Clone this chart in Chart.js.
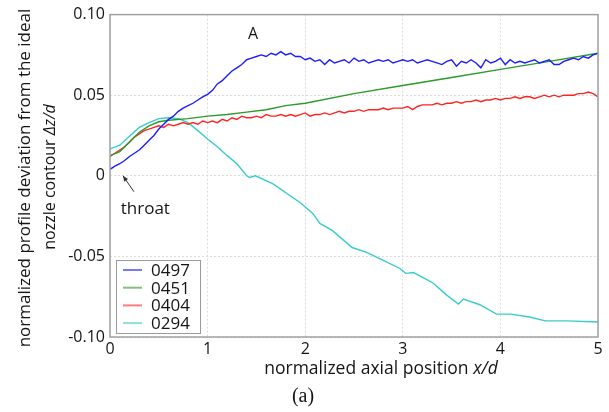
<!DOCTYPE html>
<html>
<head>
<meta charset="utf-8">
<script src="https://cdn.jsdelivr.net/npm/chart.js@4"></script>
<style>
  body { margin: 0; background: #fff; }
  #wrap { position: relative; width: 609px; height: 412px; }
</style>
</head>
<body>
<div id="wrap"><canvas id="chartCanvas"></canvas></div>
<script>
// x positions for the noisy series (step 0.05)
const fineX = [0, 0.05, 0.1, 0.15, 0.2, 0.25, 0.3, 0.35, 0.4, 0.45, 0.5, 0.55, 0.6, 0.65, 0.7, 0.75, 0.8, 0.85, 0.9, 0.95,
  1, 1.05, 1.1, 1.15, 1.2, 1.25, 1.3, 1.35, 1.4, 1.45, 1.5, 1.55, 1.6, 1.65, 1.7, 1.75, 1.8, 1.85, 1.9, 1.95,
  2, 2.05, 2.1, 2.15, 2.2, 2.25, 2.3, 2.35, 2.4, 2.45, 2.5, 2.55, 2.6, 2.65, 2.7, 2.75, 2.8, 2.85, 2.9, 2.95,
  3, 3.05, 3.1, 3.15, 3.2, 3.25, 3.3, 3.35, 3.4, 3.45, 3.5, 3.55, 3.6, 3.65, 3.7, 3.75, 3.8, 3.85, 3.9, 3.95,
  4, 4.05, 4.1, 4.15, 4.2, 4.25, 4.3, 4.35, 4.4, 4.45, 4.5, 4.55, 4.6, 4.65, 4.7, 4.75, 4.8, 4.85, 4.9, 4.95, 5];

const y0497 = [0.004, 0.006, 0.0075, 0.0095, 0.012, 0.014, 0.016, 0.019, 0.022, 0.025, 0.029, 0.032, 0.035, 0.037, 0.040, 0.042, 0.0435, 0.045, 0.047, 0.049,
  0.0505, 0.053, 0.057, 0.059, 0.062, 0.065, 0.067, 0.069, 0.072, 0.073, 0.074, 0.075, 0.074, 0.076, 0.075, 0.077, 0.075, 0.076, 0.074, 0.074,
  0.072, 0.073, 0.071, 0.072, 0.069, 0.072, 0.070, 0.071, 0.072, 0.070, 0.073, 0.071, 0.072, 0.070, 0.071, 0.072, 0.071, 0.072, 0.070, 0.071,
  0.072, 0.071, 0.072, 0.070, 0.071, 0.072, 0.071, 0.070, 0.069, 0.071, 0.072, 0.068, 0.071, 0.070, 0.072, 0.070, 0.067, 0.072, 0.070, 0.071,
  0.073, 0.069, 0.072, 0.070, 0.071, 0.070, 0.071, 0.072, 0.070, 0.071, 0.072, 0.069, 0.069, 0.071, 0.072, 0.073, 0.072, 0.074, 0.073, 0.075, 0.076];

const y0404 = [0.012, 0.014, 0.016, 0.018, 0.021, 0.024, 0.026, 0.028, 0.029, 0.030, 0.031, 0.030, 0.032, 0.031, 0.032, 0.033, 0.032, 0.033, 0.032, 0.034,
  0.033, 0.034, 0.033, 0.035, 0.034, 0.036, 0.035, 0.037, 0.036, 0.036, 0.037, 0.036, 0.038, 0.037, 0.037, 0.038, 0.037, 0.038, 0.037, 0.038,
  0.039, 0.037, 0.038, 0.038, 0.039, 0.038, 0.039, 0.040, 0.039, 0.040, 0.040, 0.041, 0.040, 0.041, 0.041, 0.041, 0.042, 0.041, 0.042, 0.042,
  0.042, 0.043, 0.041, 0.043, 0.044, 0.044, 0.044, 0.045, 0.044, 0.045, 0.045, 0.046, 0.045, 0.046, 0.046, 0.047, 0.046, 0.047, 0.047, 0.048,
  0.047, 0.048, 0.048, 0.049, 0.048, 0.049, 0.049, 0.048, 0.049, 0.050, 0.049, 0.050, 0.049, 0.050, 0.050, 0.050, 0.051, 0.051, 0.052, 0.051, 0.049];

const x0451 = [0, 0.1, 0.2, 0.3, 0.4, 0.5, 0.6, 0.8, 1.0, 1.2, 1.4, 1.6, 1.8, 2.0, 2.5, 3.0, 3.5, 4.0, 4.5, 5.0];
const y0451 = [0.0125, 0.015, 0.021, 0.027, 0.031, 0.0335, 0.0345, 0.0355, 0.037, 0.038, 0.0395, 0.041, 0.0435, 0.045, 0.051, 0.056, 0.061, 0.066, 0.071, 0.076];

const x0294 = [0, 0.1, 0.2, 0.3, 0.4, 0.5, 0.6, 0.7, 0.8, 0.9, 1.0, 1.1, 1.2, 1.3, 1.40, 1.43, 1.49, 1.67, 1.95, 2.08, 2.15, 2.28, 2.48, 2.63, 2.80, 2.97, 3.03, 3.11, 3.31, 3.45, 3.57, 3.62, 3.79, 3.96, 4.10, 4.30, 4.46, 4.68, 5.0];
const y0294 = [0.0167, 0.019, 0.0245, 0.030, 0.033, 0.0355, 0.036, 0.0355, 0.033, 0.028, 0.0228, 0.018, 0.0125, 0.0075, 0.000, -0.001, 0.000, -0.005, -0.0167, -0.0235, -0.0295, -0.034, -0.0445, -0.0475, -0.0525, -0.0575, -0.0605, -0.060, -0.0665, -0.074, -0.0795, -0.0765, -0.080, -0.0858, -0.0858, -0.0876, -0.090, -0.090, -0.0907];

const seriesLabels = ['0497', '0451', '0404', '0294'];
const seriesColors = ['#1c1cff', '#2a9a2a', '#ff2424', '#38cccc'];
const xTicks = [0, 1, 2, 3, 4, 5];
const yTicks = [-0.10, -0.05, 0, 0.05, 0.10];

const FONT = "'Open Sans', sans-serif";
const INK = '#151515';

function pairs(xs, ys) {
    return xs.map((v, i) => ({ x: v, y: ys[i] }));
}

// draw a line of text where some parts are italic, centred at (cx, cy)
function drawMixed(ctx, parts, cx, cy, size) {
    let total = 0;
    parts.forEach(p => {
        ctx.font = (p[1] ? 'italic ' : '') + size + 'px ' + FONT;
        total += ctx.measureText(p[0]).width;
    });
    let x = cx - total / 2;
    ctx.textAlign = 'left';
    ctx.textBaseline = 'middle';
    parts.forEach(p => {
        ctx.font = (p[1] ? 'italic ' : '') + size + 'px ' + FONT;
        ctx.fillText(p[0], x, cy);
        x += ctx.measureText(p[0]).width;
    });
}

const extras = {
    id: 'extras',
    afterDraw(chart) {
        const { ctx, chartArea: a, scales: { x, y } } = chart;
        ctx.save();
        ctx.fillStyle = INK;

        // frame
        ctx.strokeStyle = '#a0a0a0';
        ctx.lineWidth = 1.5;
        ctx.strokeRect(a.left, a.top, a.right - a.left, a.bottom - a.top);

        // axis titles
        ctx.save();
        ctx.translate(25, 178);
        ctx.rotate(-Math.PI / 2);
        drawMixed(ctx, [['normalized profile deviation from the ideal', false]], 0, 0, 17);
        ctx.restore();
        ctx.save();
        ctx.translate(50.5, 177);
        ctx.rotate(-Math.PI / 2);
        drawMixed(ctx, [['nozzle contour ', false], ['\u0394z/d', true]], 0, 0, 16);
        ctx.restore();
        drawMixed(ctx, [['normalized axial position ', false], ['x/d', true]], 381, 369, 17.5);

        ctx.font = "20px 'Liberation Serif', serif";
        ctx.textAlign = 'center';
        ctx.textBaseline = 'middle';
        ctx.fillText('(a)', 303, 397);

        // annotations
        ctx.font = '16px ' + FONT;
        ctx.fillText('A', x.getPixelForValue(1.465), y.getPixelForValue(0.0876));
        ctx.textAlign = 'left';
        ctx.textBaseline = 'alphabetic';
        ctx.font = '17px ' + FONT;
        ctx.fillText('throat', x.getPixelForValue(0.11), y.getPixelForValue(-0.0235));

        const ax0 = x.getPixelForValue(0.246), ay0 = y.getPixelForValue(-0.0099);
        const ax1 = x.getPixelForValue(0.133), ay1 = y.getPixelForValue(0.0);
        ctx.strokeStyle = '#333';
        ctx.lineWidth = 1;
        ctx.beginPath();
        ctx.moveTo(ax0, ay0);
        ctx.lineTo(ax1, ay1);
        ctx.stroke();
        const ang = Math.atan2(ay1 - ay0, ax1 - ax0);
        ctx.beginPath();
        ctx.moveTo(ax1, ay1);
        ctx.lineTo(ax1 - 6 * Math.cos(ang - 0.4), ay1 - 6 * Math.sin(ang - 0.4));
        ctx.lineTo(ax1 - 6 * Math.cos(ang + 0.4), ay1 - 6 * Math.sin(ang + 0.4));
        ctx.closePath();
        ctx.fillStyle = '#333';
        ctx.fill();

        // legend box
        const lx = 116, ly = 260, lw = 84, lh = 73;
        ctx.fillStyle = '#fff';
        ctx.fillRect(lx, ly, lw, lh);
        ctx.strokeStyle = '#999';
        ctx.lineWidth = 1;
        ctx.strokeRect(lx + 0.5, ly + 0.5, lw, lh);
        ctx.font = '17px ' + FONT;
        ctx.textBaseline = 'middle';
        seriesLabels.forEach((lab, i) => {
            const ry = 270 + i * 17.7;
            ctx.strokeStyle = seriesColors[i];
            ctx.globalAlpha = 0.6;
            ctx.lineWidth = 2;
            ctx.beginPath();
            ctx.moveTo(123, ry);
            ctx.lineTo(142, ry);
            ctx.stroke();
            ctx.globalAlpha = 1;
            ctx.fillStyle = INK;
            ctx.fillText(lab, 151, ry + 1);
        });
        ctx.restore();
    }
};

const ctx = document.getElementById('chartCanvas').getContext('2d');
const chart = new Chart(ctx, {
    type: 'line',
    data: {
        datasets: [
            { label: seriesLabels[0], data: pairs(fineX, y0497), borderColor: seriesColors[0] },
            { label: seriesLabels[1], data: pairs(x0451, y0451), borderColor: seriesColors[1] },
            { label: seriesLabels[2], data: pairs(fineX, y0404), borderColor: seriesColors[2] },
            { label: seriesLabels[3], data: pairs(x0294, y0294), borderColor: seriesColors[3] }
        ]
    },
    options: {
        responsive: true,
        maintainAspectRatio: false,
        animation: false,
        elements: {
            point: { radius: 0 },
            line: { borderWidth: 1.4, tension: 0 }
        },
        layout: { padding: { top: 13, right: 11, left: 0, bottom: 0 } },
        plugins: { legend: { display: false }, tooltip: { enabled: false } },
        scales: {
            x: {
                type: 'linear',
                min: 0,
                max: 5,
                afterBuildTicks: s => { s.ticks = xTicks.map(v => ({ value: v })); },
                afterFit: s => { s.height = 75; },
                ticks: { color: INK, font: { family: FONT, size: 16 }, padding: 3 },
                grid: { color: '#dcdcdc', drawTicks: false },
                border: { display: false, dash: [2, 2] }
            },
            y: {
                min: -0.1,
                max: 0.1,
                afterBuildTicks: s => { s.ticks = yTicks.map(v => ({ value: v })); },
                afterFit: s => { s.width = 110; },
                ticks: {
                    color: INK,
                    font: { family: FONT, size: 16 },
                    padding: 5,
                    callback: v => Math.abs(v) < 1e-9 ? '0' : v.toFixed(2)
                },
                grid: { color: '#dcdcdc', drawTicks: false },
                border: { display: false, dash: [2, 2] }
            }
        }
    },
    plugins: [extras]
});
</script>
</body>
</html>
